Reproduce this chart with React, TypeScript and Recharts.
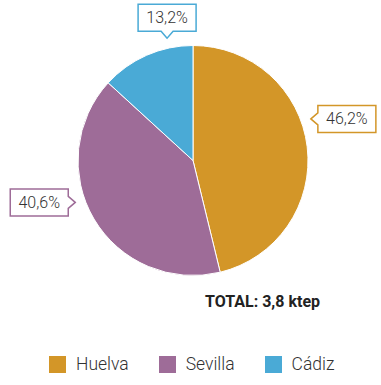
import React from 'react';
import { PieChart, Pie, Cell, Legend } from 'recharts';

const categories = ['Huelva', 'Sevilla', 'Cádiz'];
const shares = [46.2, 40.6, 13.2];
const totalLabel = 'TOTAL: 3,8 ktep';

const colors = ['#D39628', '#9E6C98', '#4AAAD6'];
const labelAngleOffsets = [12.6, -11, -11.8];

const data = categories.map((name, i) => ({ name, value: shares[i] }));

const RADIAN = Math.PI / 180;
const FONT = 'Roboto, "Noto Sans", sans-serif';

const renderLabel = (props: any) => {
  const { cx, cy, midAngle, outerRadius, index, value } = props;
  const ang = (midAngle + labelAngleOffsets[index]) * RADIAN;
  const r = outerRadius + 10;
  const tx = cx + r * Math.cos(ang);
  const ty = cy - r * Math.sin(ang);
  const w = 58;
  const h = 27;
  const p = 7;
  const hw = 6;
  const dx = tx - cx;
  const dy = ty - cy;
  let d = '';
  let textX = 0;
  let textY = 0;
  if (Math.abs(dx) >= Math.abs(dy)) {
    if (dx > 0) {
      const x0 = tx + p;
      d = `M${tx},${ty} L${x0},${ty - hw} L${x0},${ty - h / 2} L${x0 + w},${ty - h / 2} L${x0 + w},${ty + h / 2} L${x0},${ty + h / 2} L${x0},${ty + hw} Z`;
      textX = x0 + w / 2;
    } else {
      const x1 = tx - p;
      d = `M${tx},${ty} L${x1},${ty - hw} L${x1},${ty - h / 2} L${x1 - w},${ty - h / 2} L${x1 - w},${ty + h / 2} L${x1},${ty + h / 2} L${x1},${ty + hw} Z`;
      textX = x1 - w / 2;
    }
    textY = ty;
  } else {
    if (dy < 0) {
      const y1 = ty - p;
      d = `M${tx},${ty} L${tx - hw},${y1} L${tx - w / 2},${y1} L${tx - w / 2},${y1 - h} L${tx + w / 2},${y1 - h} L${tx + w / 2},${y1} L${tx + hw},${y1} Z`;
      textY = y1 - h / 2;
    } else {
      const y0 = ty + p;
      d = `M${tx},${ty} L${tx - hw},${y0} L${tx - w / 2},${y0} L${tx - w / 2},${y0 + h} L${tx + w / 2},${y0 + h} L${tx + w / 2},${y0} L${tx + hw},${y0} Z`;
      textY = y0 + h / 2;
    }
    textX = tx;
  }
  const txt = value.toFixed(1).replace('.', ',') + '%';
  return (
    <g key={`lbl-${index}`}>
      <path d={d} fill="#fff" stroke={colors[index]} strokeWidth={1.5} />
      <text
        x={textX}
        y={textY}
        textAnchor="middle"
        dominantBaseline="central"
        fontFamily={FONT}
        fontWeight={300}
        fontSize={16}
        fill="#333"
      >
        {txt}
      </text>
    </g>
  );
};

const renderLegend = () => (
  <div style={{ display: 'flex', alignItems: 'center', fontFamily: FONT, fontWeight: 300, fontSize: 17.5, color: '#333' }}>
    {categories.map((c, i) => (
      <div key={c} style={{ display: 'flex', alignItems: 'center', marginRight: i < categories.length - 1 ? 30 : 0 }}>
        <div style={{ width: 17, height: 17, background: colors[i], marginRight: 10 }} />
        <span>{c}</span>
      </div>
    ))}
  </div>
);

export default function App() {
  return (
    <div style={{ position: 'absolute', left: 0, top: 0, width: 381, height: 385, background: '#fff' }}>
      <PieChart width={381} height={385} margin={{ top: 0, right: 0, bottom: 0, left: 0 }}>
        <Pie
          data={data}
          dataKey="value"
          nameKey="name"
          cx={193}
          cy={160.5}
          outerRadius={115}
          startAngle={90}
          endAngle={-270}
          stroke="#fff"
          strokeWidth={1}
          labelLine={false}
          label={renderLabel}
          isAnimationActive={false}
        >
          {data.map((d, i) => (
            <Cell key={d.name} fill={colors[i]} />
          ))}
        </Pie>
        <Legend
          content={renderLegend}
          wrapperStyle={{ position: 'absolute', left: 49, top: 354, width: 330 }}
        />
      </PieChart>
      <div
        style={{
          position: 'absolute',
          left: 205,
          top: 292,
          fontFamily: FONT,
          fontWeight: 700,
          fontSize: 16,
          color: '#222',
          whiteSpace: 'nowrap',
        }}
      >
        {totalLabel}
      </div>
    </div>
  );
}
